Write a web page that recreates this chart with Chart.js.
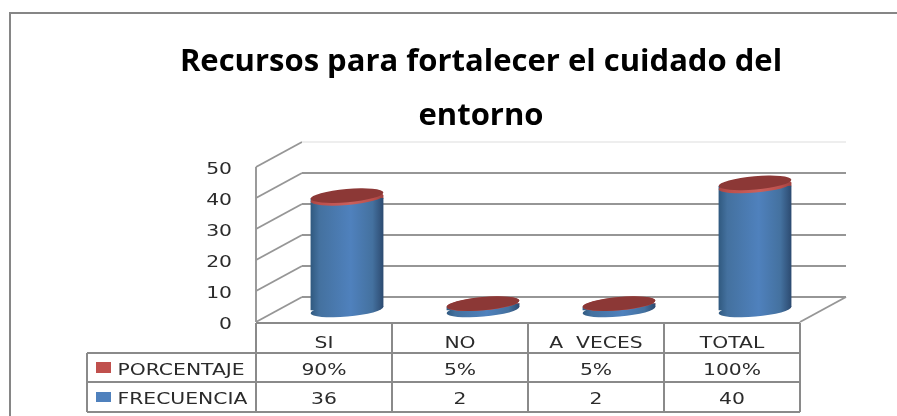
<!DOCTYPE html>
<html>
<head>
<meta charset="utf-8">
<style>
html,body{margin:0;padding:0;background:#fff;overflow:hidden}
#frame{position:absolute;left:9px;top:12px;right:-5px;bottom:-5px;border:2px solid #868686}
canvas{position:absolute;left:0;top:0;filter:blur(0.35px)}
</style>
<script src="https://cdn.jsdelivr.net/npm/chart.js@4/dist/chart.umd.js"></script>
</head>
<body>
<canvas id="c" width="897" height="416"></canvas>
<div id="frame"></div>
<script>
const titleLines = ['Recursos para fortalecer el cuidado del', 'entorno'];
const categories = ['SI', 'NO', 'A  VECES', 'TOTAL'];
const frecuencia = [36, 2, 2, 40];
const porcentaje = [0.9, 0.05, 0.05, 1];
const porcentajeLabels = ['90%', '5%', '5%', '100%'];
const frecuenciaLabels = ['36', '2', '2', '40'];
const yTicks = [0, 10, 20, 30, 40, 50];

const DEPTH_X = 46, DEPTH_Y = 25;
const OFF_X = 23, OFF_Y = 12;
const BAR_W = 73, TILT = -5 * Math.PI / 180, ELL_B = 6.6, SLANT = 3;
const GRID = '#969696', TABLE_LINE = '#8a8a8a', TEXT = '#2b2b2b';
const RED = '#C0504D', BLUE = '#4F81BD', CAP = '#8C3836';
const TABLE_LEFT = 87, ROW_YS = [323, 353, 382, 412];
const TEXT_FONT = '16px "DejaVu Sans"', STRETCH = 1.27, TEXT_DY = 2.5;

function barGradient(ctx, cx, stops) {
  if (!Number.isFinite(cx)) return stops[2];
  const g = ctx.createLinearGradient(cx - BAR_W / 2, 0, cx + BAR_W / 2, 0);
  g.addColorStop(0, stops[0]);
  g.addColorStop(0.12, stops[1]);
  g.addColorStop(0.55, stops[2]);
  g.addColorStop(0.85, stops[1]);
  g.addColorStop(1, stops[3]);
  return g;
}
const BLUE_STOPS = ['#30597F', '#44719F', '#4F81BD', '#2C4A70'];
const RED_STOPS = ['#A84542', '#BC4F4C', '#C9605C', '#A04240'];

function scripted(stops) {
  return (c) => {
    const x = c.chart.scales.x;
    return barGradient(c.chart.ctx, x ? x.getPixelForValue(c.dataIndex) : NaN, stops);
  };
}
function ellipse(ctx, cx, cy, fill) {
  ctx.beginPath();
  ctx.ellipse(cx, cy, BAR_W / 2, ELL_B, TILT, 0, Math.PI * 2);
  ctx.fillStyle = fill;
  ctx.fill();
}
function wideText(ctx, s, x, y, align) {
  ctx.save();
  ctx.font = TEXT_FONT;
  ctx.fillStyle = TEXT;
  ctx.textAlign = align;
  ctx.textBaseline = 'middle';
  ctx.translate(x, y + TEXT_DY);
  ctx.scale(STRETCH, 1);
  ctx.fillText(s, 0, 0);
  ctx.restore();
}
function line(ctx, x1, y1, x2, y2) {
  ctx.beginPath();
  ctx.moveTo(x1, y1);
  ctx.lineTo(x2, y2);
  ctx.stroke();
}

const wallsAndTable = {
  id: 'wallsAndTable',
  beforeDatasetsDraw(chart) {
    const { ctx, chartArea: a, scales: { y } } = chart;
    ctx.save();
    ctx.lineWidth = 1.9;
    ctx.strokeStyle = GRID;
    yTicks.forEach((t) => {
      const py = y.getPixelForValue(t);
      line(ctx, a.left, py, a.left + DEPTH_X, py - DEPTH_Y);
      ctx.strokeStyle = t === yTicks[yTicks.length - 1] ? '#eeeeee' : GRID;
      line(ctx, a.left + DEPTH_X, py - DEPTH_Y, a.right + DEPTH_X, py - DEPTH_Y);
      ctx.strokeStyle = GRID;
      wideText(ctx, String(t), 232, py, 'right');
    });
    line(ctx, a.left, y.getPixelForValue(50), a.left, a.bottom);
    line(ctx, a.right, a.bottom, a.right + DEPTH_X, a.bottom - DEPTH_Y);
    ctx.restore();
  },
  beforeDatasetDraw(chart, args) {
    const { ctx, scales: { x, y } } = chart;
    ctx.save();
    ctx.translate(OFF_X, -OFF_Y);
    if (args.index === 0) {
      categories.forEach((_, i) => {
        const cx = x.getPixelForValue(i);
        ellipse(ctx, cx, y.getPixelForValue(0), barGradient(ctx, cx, BLUE_STOPS));
      });
    }
    // Tilted ends so the bar's square corners do not stick out past the ellipses.
    ctx.beginPath();
    categories.forEach((_, i) => {
      const cx = x.getPixelForValue(i), h = BAR_W / 2;
      const yb = y.getPixelForValue(0);
      const yt = y.getPixelForValue(frecuencia[i] + porcentaje[i]);
      ctx.moveTo(cx - h, yt + SLANT);
      ctx.lineTo(cx + h, yt - SLANT);
      ctx.lineTo(cx + h, yb - SLANT);
      ctx.lineTo(cx - h, yb + SLANT);
      ctx.closePath();
    });
    ctx.clip();
  },
  afterDatasetDraw(chart, args) {
    const { ctx, scales: { x, y } } = chart;
    ctx.restore();
    if (args.index === 0) {
      ctx.save();
      ctx.translate(OFF_X, -OFF_Y);
      categories.forEach((_, i) => {
        const cx = x.getPixelForValue(i);
        const v = frecuencia[i];
        ellipse(ctx, cx, y.getPixelForValue(v), barGradient(ctx, cx, RED_STOPS));
        ellipse(ctx, cx, y.getPixelForValue(v + porcentaje[i]), CAP);
      });
      ctx.restore();
    }
  },
  afterDraw(chart) {
    const { ctx, chartArea: a, scales: { x } } = chart;
    const band = (a.right - a.left) / categories.length;
    ctx.save();
    ctx.lineWidth = 2;
    ctx.strokeStyle = TABLE_LINE;
    line(ctx, a.left, ROW_YS[0], a.right, ROW_YS[0]);
    line(ctx, TABLE_LEFT, ROW_YS[1], a.right, ROW_YS[1]);
    line(ctx, TABLE_LEFT, ROW_YS[2], a.right, ROW_YS[2]);
    line(ctx, TABLE_LEFT, ROW_YS[3], a.right, ROW_YS[3]);
    line(ctx, TABLE_LEFT, ROW_YS[1], TABLE_LEFT, ROW_YS[3]);
    for (let i = 0; i <= categories.length; i++) {
      const vx = a.left + band * i;
      line(ctx, vx, ROW_YS[0], vx, ROW_YS[3]);
    }
    ctx.fillStyle = RED;
    ctx.fillRect(96, 362, 15, 11);
    ctx.fillStyle = BLUE;
    ctx.fillRect(96, 392, 15, 10);
    wideText(ctx, 'PORCENTAJE', 117.5, 368, 'left');
    wideText(ctx, 'FRECUENCIA', 117.5, 397.5, 'left');
    categories.forEach((c, i) => {
      const cx = x.getPixelForValue(i);
      wideText(ctx, c, cx, 341, 'center');
      wideText(ctx, porcentajeLabels[i], cx, 368, 'center');
      wideText(ctx, frecuenciaLabels[i], cx, 397.5, 'center');
    });
    ctx.restore();
  }
};

new Chart(document.getElementById('c'), {
  type: 'bar',
  data: {
    labels: categories,
    datasets: [
      { label: 'FRECUENCIA', data: frecuencia, clip: false,
        backgroundColor: scripted(BLUE_STOPS), barThickness: BAR_W },
      { label: 'PORCENTAJE', data: porcentaje, clip: false,
        backgroundColor: scripted(RED_STOPS), barThickness: BAR_W }
    ]
  },
  options: {
    responsive: false,
    animation: false,
    layout: { padding: { left: 162, right: 97, top: 25, bottom: 94 } },
    plugins: {
      legend: { display: false },
      tooltip: { enabled: false },
      title: {
        display: true,
        text: titleLines,
        color: '#000000',
        font: { family: 'Open Sans', weight: 'bold', size: 31, lineHeight: '54px' },
        padding: { top: 10, bottom: 24 }
      }
    },
    scales: {
      x: { stacked: true, display: false },
      y: {
        stacked: true, min: 0, max: 50,
        grid: { display: false },
        border: { display: false },
        ticks: { display: false, stepSize: 10 },
        afterFit(s) { s.width = 94; }
      }
    }
  },
  plugins: [wallsAndTable]
});
</script>
</body>
</html>
